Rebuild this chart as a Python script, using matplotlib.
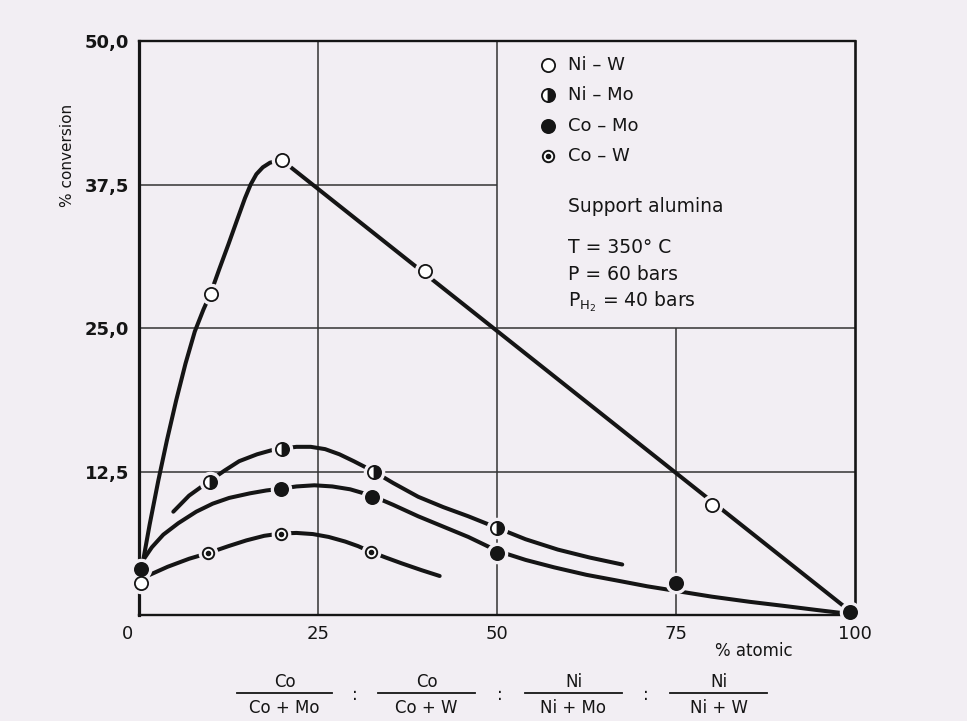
import matplotlib
matplotlib.use("Agg")
import matplotlib.pyplot as plt
from matplotlib.lines import Line2D
from matplotlib.transforms import ScaledTranslation

# ---- data -----------------------------------------------------------------
# smooth curves (hand-drawn in the original), traced point by point
niw_curve_x = [0.6, 1.5, 2.7, 3.9, 5.2, 6.5, 7.8, 9.0, 10.0, 11.2, 12.5, 13.7,
               14.8, 15.6, 16.4, 17.3, 18.3, 19.2, 20.0, 100.0]
niw_curve_y = [4.8, 7.9, 11.7, 15.2, 18.7, 21.9, 24.7, 26.6, 28.0, 30.1, 32.3, 34.4,
               36.3, 37.5, 38.4, 39.0, 39.4, 39.55, 39.6, 0.0]

nimo_curve_x = [4.8, 7.0, 9.9, 12.0, 14.0, 16.5, 18.5, 20.0, 22.0, 24.0, 26.0, 28.0,
                30.0, 32.8, 35.5, 39.0, 42.5, 46.0, 50.0, 54.0, 58.5, 63.0, 67.5]
nimo_curve_y = [9.0, 10.4, 11.7, 12.6, 13.4, 14.0, 14.35, 14.5, 14.65, 14.65, 14.45, 14.0,
                13.4, 12.5, 11.5, 10.3, 9.4, 8.6, 7.6, 6.6, 5.7, 5.0, 4.4]

como_curve_x = [0.6, 1.8, 3.4, 5.5, 8.0, 10.3, 12.6, 15.5, 17.8, 19.8, 22.0, 24.5,
                27.0, 29.5, 32.5, 35.5, 39.0, 42.5, 46.0, 50.0, 54.0, 58.0, 62.5,
                66.8, 71.0, 75.0, 80.0, 85.3, 90.0, 94.5, 98.5]
como_curve_y = [4.8, 5.9, 7.0, 8.0, 9.0, 9.7, 10.2, 10.6, 10.85, 11.0, 11.2, 11.3,
                11.2, 10.95, 10.4, 9.6, 8.6, 7.7, 6.8, 5.6, 4.8, 4.15, 3.5,
                3.0, 2.5, 2.1, 1.6, 1.15, 0.8, 0.45, 0.15]

cow_curve_x = [1.5, 4.0, 7.0, 9.7, 12.5, 15.0, 17.5, 19.8, 22.0, 24.3, 26.5, 28.8,
               30.6, 32.4, 34.5, 36.7, 39.5, 42.0]
cow_curve_y = [3.5, 4.2, 4.9, 5.4, 6.0, 6.5, 6.9, 7.1, 7.15, 7.05, 6.8, 6.4,
               6.0, 5.5, 5.0, 4.5, 3.9, 3.4]

# measured points
niw_x = [0.3, 10.0, 20.0, 40.0, 80.0]
niw_y = [2.8, 28.0, 39.6, 30.0, 9.6]
nimo_x = [9.9, 20.0, 32.8, 50.0]
nimo_y = [11.6, 14.5, 12.5, 7.6]
como_x = [0.3, 19.8, 32.5, 50.0, 75.0, 99.3]
como_y = [4.0, 11.0, 10.3, 5.4, 2.8, 0.3]
cow_x = [9.7, 19.8, 32.4]
cow_y = [5.4, 7.1, 5.5]

xticks = [0, 25, 50, 75, 100]
yticks = [12.5, 25.0, 37.5, 50.0]
ytick_labels = ["12,5", "25,0", "37,5", "50,0"]

legend_labels = ["Ni \u2013 W", "Ni \u2013 Mo", "Co \u2013 Mo", "Co \u2013 W"]
conditions = ["Support alumina", "T = 350\u00b0 C", "P = 60 bars",
              r"P$_{\mathregular{H_2}}$ = 40 bars"]

# ---- style -----------------------------------------------------------------
BG = "#f2eef3"
INK = "#151515"

fig = plt.figure(figsize=(9.67, 7.21), dpi=100)
fig.patch.set_facecolor(BG)
ax = fig.add_axes([0.1437, 0.1470, 0.7404, 0.7961])
ax.set_facecolor(BG)
ax.set_xlim(0, 100)
ax.set_ylim(0, 50)

# partial grid, as in the original drawing
grid_kw = dict(color="#333333", linewidth=1.1, zorder=1)
ax.vlines([25, 50], 0, 50, **grid_kw)
ax.vlines([75], 0, 25, **grid_kw)
ax.hlines([12.5, 25.0], 0, 100, **grid_kw)
ax.hlines([37.5], 0, 50, **grid_kw)

for side, lw in [("left", 2.3), ("bottom", 1.7), ("top", 1.7), ("right", 1.9)]:
    ax.spines[side].set_linewidth(lw)
    ax.spines[side].set_color(INK)

# curves
line_kw = dict(color=INK, linewidth=2.9, solid_capstyle="round",
               solid_joinstyle="round", zorder=2)
ax.plot(niw_curve_x, niw_curve_y, **line_kw)
ax.plot(nimo_curve_x, nimo_curve_y, **line_kw)
ax.plot(como_curve_x, como_curve_y, **line_kw)
ax.plot(cow_curve_x, cow_curve_y, **line_kw)


def draw_points(x, y, kind, clip=True):
    ms = 8.2 if kind == "dot" else 9.5
    # halo in background colour gives the small gap between curve and symbol
    ax.plot(x, y, "o", ms=ms + 5, color=BG, mec=BG, ls="none", zorder=3, clip_on=clip)
    if kind == "open":
        ax.plot(x, y, "o", ms=ms, mfc="white", mec=INK, mew=1.3, ls="none",
                zorder=4, clip_on=clip)
    elif kind == "half":
        ax.plot(x, y, "o", ms=ms, fillstyle="right", mfc=INK, mfcalt="white",
                mec=INK, mew=1.3, ls="none", zorder=4, clip_on=clip)
    elif kind == "full":
        ax.plot(x, y, "o", ms=ms, mfc=INK, mec=INK, mew=1.3, ls="none",
                zorder=4, clip_on=clip)
    elif kind == "dot":
        ax.plot(x, y, "o", ms=ms, mfc="white", mec=INK, mew=1.4, ls="none",
                zorder=4, clip_on=clip)
        ax.plot(x, y, "o", ms=3.0, mfc=INK, mec=INK, ls="none", zorder=5, clip_on=clip)


draw_points(niw_x, niw_y, "open", clip=False)
draw_points(nimo_x, nimo_y, "half")
draw_points(como_x, como_y, "full", clip=False)
draw_points(cow_x, cow_y, "dot")

# key and conditions, written inside the upper-right box
kinds = ["open", "half", "full", "dot"]
key_y = [47.9, 45.3, 42.6, 40.0]
for kind, label, yy in zip(kinds, legend_labels, key_y):
    draw_points([57.1], [yy], kind)
    ax.text(59.9, yy, label, fontsize=13, color=INK, va="center", ha="left")

cond_y = [35.6, 32.0, 29.7, 27.3]
for txt, yy in zip(conditions, cond_y):
    ax.text(59.9, yy, txt, fontsize=13.5, color=INK, va="center", ha="left")

# ticks
ax.set_xticks(xticks)
ax.set_xticklabels([str(t) for t in xticks])
ax.set_yticks(yticks)
ax.set_yticklabels(ytick_labels)
ax.tick_params(axis="both", length=0, labelsize=13, labelcolor=INK)
ax.tick_params(axis="x", pad=7)
ax.tick_params(axis="y", pad=7)
for lab in ax.get_yticklabels():
    lab.set_fontweight("bold")
first = ax.get_xticklabels()[0]
first.set_transform(first.get_transform() + ScaledTranslation(-11 / 100, 0, fig.dpi_scale_trans))

fig.text(67 / 967, 1 - 155 / 721, "% conversion", rotation=90, fontsize=11,
         color=INK, ha="center", va="center")
fig.text(754 / 967, 1 - 651 / 721, "% atomic", fontsize=12, color=INK,
         ha="center", va="center")

# composition ratios below the axis
fractions = [("Co", "Co + Mo", 237, 332), ("Co", "Co + W", 378, 475),
             ("Ni", "Ni + Mo", 525, 622), ("Ni", "Ni + W", 670, 767)]
colons_x = [355, 500, 646]
for num, den, x0, x1 in fractions:
    xc = (x0 + x1) / 2 / 967
    fig.text(xc, 1 - 682 / 721, num, fontsize=12, color=INK, ha="center", va="center")
    fig.text(xc, 1 - 708 / 721, den, fontsize=12, color=INK, ha="center", va="center")
    fig.add_artist(Line2D([x0 / 967, x1 / 967], [1 - 693 / 721, 1 - 693 / 721],
                          color=INK, linewidth=1.3, transform=fig.transFigure))
for cx in colons_x:
    fig.text(cx / 967, 1 - 695 / 721, ":", fontsize=12, color=INK, ha="center", va="center")

fig.savefig("out.png", dpi=100, facecolor=BG)
